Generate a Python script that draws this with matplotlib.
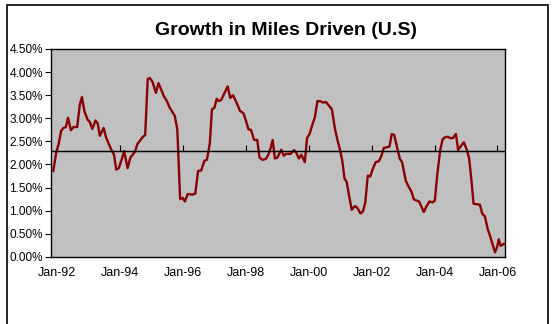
import matplotlib.pyplot as plt
from matplotlib.patches import Rectangle

# time as fractional years, growth in %
years = [1991.89, 1991.99, 1992.06, 1992.14, 1992.21, 1992.29, 1992.36, 1992.45, 1992.53, 1992.65,
         1992.73, 1992.80, 1992.88, 1992.98, 1993.05, 1993.13, 1993.23, 1993.30, 1993.37, 1993.49,
         1993.57, 1993.72, 1993.82, 1993.89, 1993.97, 1994.05, 1994.14, 1994.25, 1994.34, 1994.41,
         1994.49, 1994.56, 1994.66, 1994.74, 1994.81, 1994.89, 1994.96, 1995.04, 1995.15, 1995.23,
         1995.33, 1995.40, 1995.50, 1995.58, 1995.65, 1995.75, 1995.83, 1995.92, 1996.00, 1996.07,
         1996.16, 1996.32, 1996.40, 1996.49, 1996.59, 1996.69, 1996.77, 1996.86, 1996.93, 1997.01,
         1997.08, 1997.15, 1997.23, 1997.33, 1997.43, 1997.51, 1997.60, 1997.71, 1997.82, 1997.93,
         1998.00, 1998.09, 1998.17, 1998.27, 1998.37, 1998.44, 1998.54, 1998.64, 1998.72, 1998.80,
         1998.86, 1998.93, 1999.01, 1999.13, 1999.21, 1999.29, 1999.43, 1999.54, 1999.61, 1999.69,
         1999.77, 1999.88, 1999.95, 2000.03, 2000.12, 2000.20, 2000.28, 2000.38, 2000.45, 2000.55,
         2000.64, 2000.74, 2000.84, 2000.92, 2000.99, 2001.07, 2001.14, 2001.21, 2001.29, 2001.37,
         2001.47, 2001.55, 2001.65, 2001.73, 2001.80, 2001.88, 2001.96, 2002.03, 2002.13, 2002.23,
         2002.31, 2002.39, 2002.47, 2002.57, 2002.64, 2002.72, 2002.82, 2002.90, 2002.97, 2003.09,
         2003.17, 2003.27, 2003.34, 2003.42, 2003.51, 2003.58, 2003.66, 2003.74, 2003.84, 2003.94,
         2004.01, 2004.09, 2004.18, 2004.26, 2004.34, 2004.42, 2004.50, 2004.58, 2004.68, 2004.75,
         2004.85, 2004.93, 2005.03, 2005.10, 2005.17, 2005.24, 2005.34, 2005.44, 2005.52, 2005.60,
         2005.69, 2005.77, 2005.84, 2005.92, 2005.99, 2006.04, 2006.10, 2006.20]
growth = [1.86, 2.28, 2.44, 2.73, 2.79, 2.81, 3.01, 2.74, 2.81, 2.81,
          3.28, 3.46, 3.15, 2.97, 2.92, 2.77, 2.95, 2.89, 2.62, 2.79,
          2.58, 2.34, 2.21, 1.89, 1.92, 2.08, 2.29, 1.92, 2.15, 2.21,
          2.28, 2.44, 2.53, 2.60, 2.64, 3.85, 3.87, 3.79, 3.55, 3.76,
          3.60, 3.48, 3.37, 3.24, 3.16, 3.05, 2.76, 1.25, 1.28, 1.20,
          1.36, 1.35, 1.37, 1.86, 1.87, 2.08, 2.10, 2.44, 3.19, 3.23,
          3.42, 3.37, 3.40, 3.55, 3.69, 3.44, 3.50, 3.34, 3.16, 3.11,
          2.97, 2.76, 2.75, 2.53, 2.53, 2.15, 2.10, 2.12, 2.21, 2.37,
          2.53, 2.13, 2.15, 2.32, 2.19, 2.23, 2.23, 2.31, 2.25, 2.13,
          2.21, 2.05, 2.57, 2.66, 2.86, 3.02, 3.37, 3.37, 3.34, 3.35,
          3.28, 3.19, 2.76, 2.52, 2.34, 2.08, 1.70, 1.62, 1.31, 1.02,
          1.10, 1.06, 0.94, 0.99, 1.18, 1.76, 1.74, 1.89, 2.05, 2.07,
          2.18, 2.36, 2.37, 2.39, 2.66, 2.64, 2.34, 2.12, 2.05, 1.64,
          1.53, 1.41, 1.25, 1.22, 1.20, 1.09, 0.97, 1.09, 1.20, 1.18,
          1.22, 1.80, 2.31, 2.55, 2.59, 2.60, 2.57, 2.57, 2.66, 2.31,
          2.41, 2.48, 2.31, 2.13, 1.67, 1.15, 1.14, 1.13, 0.93, 0.88,
          0.60, 0.44, 0.28, 0.10, 0.22, 0.38, 0.24, 0.28]

tick_years = [1992, 1994, 1996, 1998, 2000, 2002, 2004, 2006]
tick_labels = ["Jan-92", "Jan-94", "Jan-96", "Jan-98", "Jan-00", "Jan-02", "Jan-04", "Jan-06"]
y_ticks = [0, 0.5, 1.0, 1.5, 2.0, 2.5, 3.0, 3.5, 4.0, 4.5]
cross_at = 2.3

plt.rcParams['font.family'] = ['Liberation Sans', 'DejaVu Sans']

fig = plt.figure(figsize=(5.55, 3.24), dpi=100)
ax = fig.add_axes([0.092, 0.207, 0.818, 0.642])
ax.set_facecolor('#C0C0C0')

# chart outer border (runs off the bottom edge)
fig.patches.append(Rectangle((7 / 555, -0.1), 541 / 555, 1.1 - 5 / 324,
                             transform=fig.transFigure, fill=False,
                             edgecolor='black', linewidth=1.2))

ax.plot(years, growth, color='#8B0000', linewidth=1.7)
ax.axhline(cross_at, color='black', linewidth=1)

ax.set_xlim(1991.82, 2006.24)
ax.set_ylim(0, 4.5)
ax.set_yticks(y_ticks)
ax.set_yticklabels([f"{v:.2f}%" for v in y_ticks])
ax.set_xticks(tick_years)
ax.set_xticklabels(tick_labels)
ax.tick_params(axis='x', length=0, pad=7, labelsize=9)
ax.tick_params(axis='y', length=4, direction='out', labelsize=8.5, pad=2)
for s in ax.spines.values():
    s.set_color('black')
    s.set_linewidth(1)

# ticks on the crossing axis
sec = ax.secondary_xaxis(cross_at / 4.5)
sec.set_xticks(tick_years)
sec.set_xticklabels([])
sec.tick_params(length=4, direction='out', color='black')
sec.spines['bottom'].set_visible(False)

fig.text(0.515, 0.905, "Growth in Miles Driven (U.S)", ha='center', va='center',
         fontsize=14, fontweight='bold')

fig.savefig("out.png", dpi=100)
